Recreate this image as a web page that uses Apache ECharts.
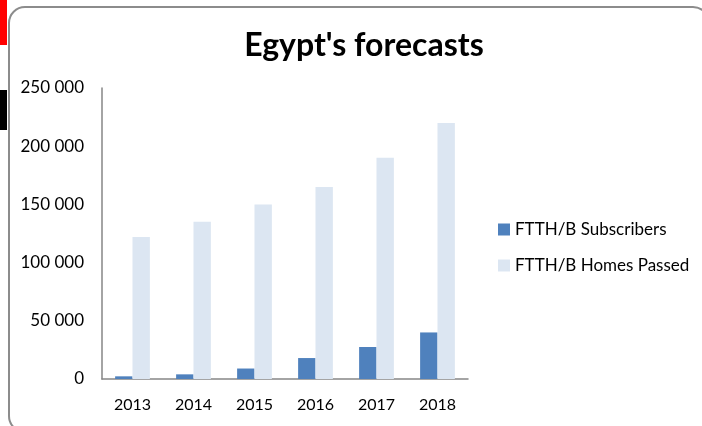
<!DOCTYPE html>
<html><head><meta charset="utf-8">
<script src="https://cdn.jsdelivr.net/npm/echarts@6/dist/echarts.min.js"></script>
<style>html,body{margin:0;padding:0;background:#fff}#c{width:702px;height:426px}</style>
</head><body><div id="c"></div>
<script>
const categories = ['2013','2014','2015','2016','2017','2018'];
const subscribers = [2300, 4000, 9000, 18000, 27500, 40000];
const homesPassed = [122000, 135000, 150000, 165000, 190000, 220000];
const seriesNames = ['FTTH/B Subscribers', 'FTTH/B Homes Passed'];
const titleText = "Egypt's forecasts";

const font = 'Lato, "Open Sans", sans-serif';
const chart = echarts.init(document.getElementById('c'), null, {renderer:'canvas'});
chart.setOption({
  animation: false,
  backgroundColor: '#fff',
  title: {text: titleText, left: 359, top: 25, textAlign: 'center',
    textStyle: {fontFamily: font, fontSize: 32, fontWeight: 'bold', color: '#000'}},
  legend: {orient: 'vertical', left: 498, top: 221, padding: 0, itemWidth: 12, itemHeight: 12, itemGap: 19,
    icon: 'rect', textStyle: {fontFamily: font, fontSize: 17, color: '#000'}, data: seriesNames},
  grid: {left: 102, top: 88, width: 366, height: 291, containLabel: false},
  xAxis: {type: 'category', data: categories,
    axisLine: {lineStyle: {color: '#868686', width: 1.5}}, axisTick: {show: false},
    axisLabel: {fontFamily: font, fontSize: 16, color: '#000', margin: 18}},
  yAxis: {type: 'value', min: 0, max: 250000, interval: 50000,
    axisLine: {show: true, lineStyle: {color: '#868686', width: 1.5}}, axisTick: {show: false},
    splitLine: {show: false},
    axisLabel: {fontFamily: font, fontSize: 17, color: '#000', margin: 18,
      formatter: v => String(v).replace(/\B(?=(\d{3})+(?!\d))/g, ' ')}},
  series: [
    {name: seriesNames[0], type: 'bar', data: subscribers, barGap: '0%', barCategoryGap: '43%',
      itemStyle: {color: '#4F81BD'}},
    {name: seriesNames[1], type: 'bar', data: homesPassed, barGap: '0%', barCategoryGap: '43%',
      itemStyle: {color: '#DCE6F2'}}
  ],
  graphic: [
    {type: 'rect', left: 0, top: 0, shape: {width: 7, height: 45}, style: {fill: '#ff0000'}},
    {type: 'rect', left: 0, top: 90, shape: {width: 7, height: 40}, style: {fill: '#000000'}},
    {type: 'rect', shape: {x: 9, y: 7, width: 700, height: 425, r: 16},
      style: {fill: 'none', stroke: '#8c8c8c', lineWidth: 2}, silent: true}
  ]
});
</script></body></html>
